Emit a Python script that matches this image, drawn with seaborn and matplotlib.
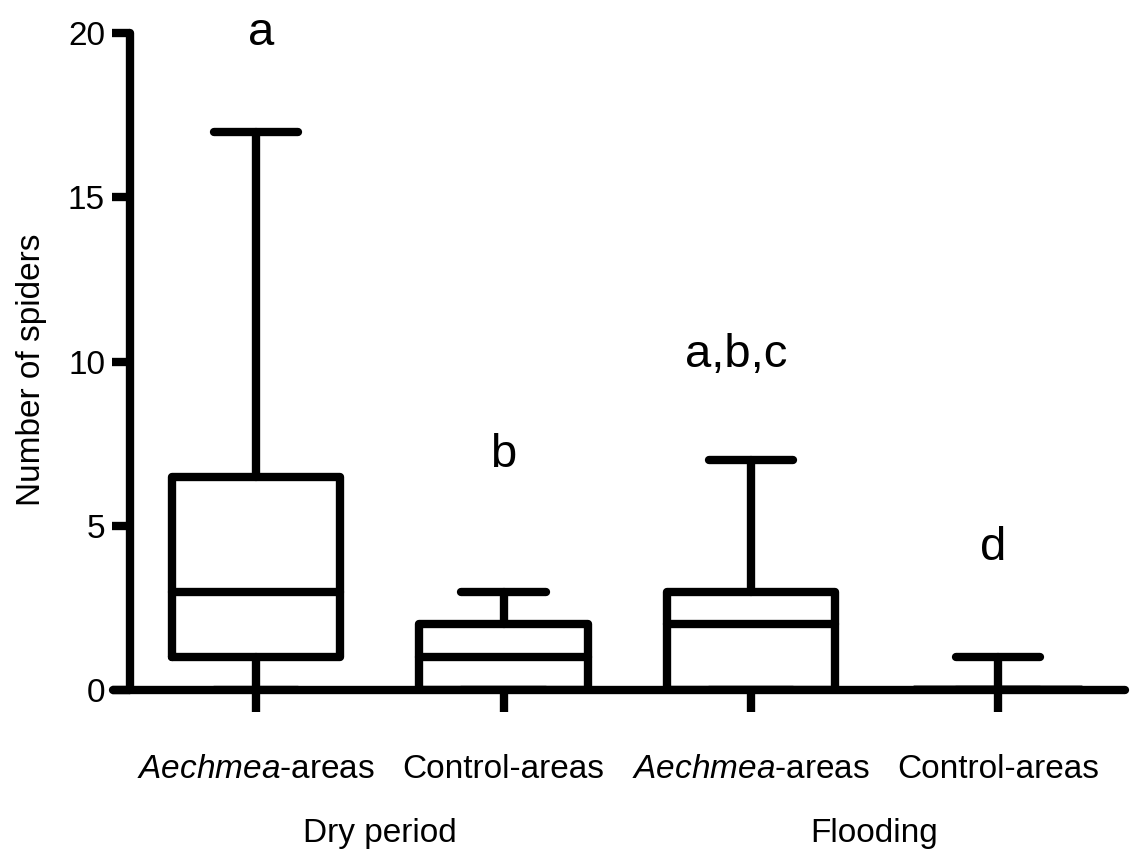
import pandas as pd
import seaborn as sns
import matplotlib.pyplot as plt
import matplotlib.transforms as mtransforms

# five-number summaries: min, q1, median, q3, max
groups = ['Aechmea dry', 'Control dry', 'Aechmea flood', 'Control flood']
dry_aechmea = [0, 1, 3, 6.5, 17]
dry_control = [0, 0, 1, 2, 3]
flood_aechmea = [0, 0, 2, 3, 7]
flood_control = [0, 0, 0, 0, 1]

tick_labels = [r'$\it{Aechmea}$-areas', 'Control-areas',
               r'$\it{Aechmea}$-areas', 'Control-areas']
period_labels = ['Dry period', 'Flooding']
period_pos = [0.5, 2.5]

letters = ['a', 'b', 'a,b,c', 'd']
letter_x = [0.02, 1.0, 1.94, 2.98]
letter_y = [19.63, 6.79, 9.83, 3.96]

sns.set_style('white')
plt.rcParams['font.family'] = ['Liberation Sans', 'DejaVu Sans']
plt.rcParams['mathtext.fontset'] = 'custom'
plt.rcParams['mathtext.rm'] = 'Liberation Sans'
plt.rcParams['mathtext.it'] = 'Liberation Sans:italic'
plt.rcParams['text.color'] = 'black'
plt.rcParams['axes.labelcolor'] = 'black'
plt.rcParams['xtick.color'] = 'black'
plt.rcParams['ytick.color'] = 'black'

df = pd.DataFrame({
    'group': sum([[g] * 5 for g in groups], []),
    'spiders': dry_aechmea + dry_control + flood_aechmea + flood_control,
})

fig = plt.figure(figsize=(11.36, 8.52), dpi=100)
ax = fig.add_axes([0.0995, 0.190, 0.891, 0.771])

lw = 6
line_kws = dict(solid_capstyle='round', solid_joinstyle='round')
sns.boxplot(data=df, x='group', y='spiders', order=groups, whis=(0, 100),
            width=0.68, fill=False, color='black', linewidth=lw,
            showfliers=False, ax=ax,
            boxprops=dict(solid_joinstyle='round'),
            whiskerprops=line_kws, capprops=line_kws, medianprops=line_kws)

ax.set_xlim(-0.579, 3.514)
ax.set_ylim(0, 20)
ax.set_yticks([0, 5, 10, 15, 20])
ax.set_xticks(range(4))
ax.set_xticklabels(tick_labels)
ax.set_xlabel('')
ax.set_ylabel('Number of spiders', fontsize=24)
ax.yaxis.set_label_coords(-0.065, 0.487)

for s in ['top', 'right']:
    ax.spines[s].set_visible(False)
for s in ['left', 'bottom']:
    ax.spines[s].set_linewidth(lw)
    ax.spines[s].set_color('black')
    ax.spines[s].set_capstyle('round')
    ax.spines[s].set_zorder(5)
ax.spines['left'].set_position(('data', -0.51))
ax.spines['left'].set_bounds(0, 20)

ax.tick_params(axis='y', direction='out', length=13, width=lw, pad=5,
               labelsize=24, left=True)
ax.tick_params(axis='x', direction='out', length=16, width=lw, pad=30,
               labelsize=24, bottom=True)

for txt, x, y in zip(letters, letter_x, letter_y):
    ax.text(x, y, txt, ha='center', va='baseline', fontsize=34, clip_on=False)

trans = mtransforms.blended_transform_factory(ax.transData, ax.transAxes)
for txt, x in zip(period_labels, period_pos):
    ax.text(x, -0.231, txt, ha='center', va='baseline', fontsize=24,
            transform=trans)

fig.savefig('out.png', dpi=100, facecolor='white')
